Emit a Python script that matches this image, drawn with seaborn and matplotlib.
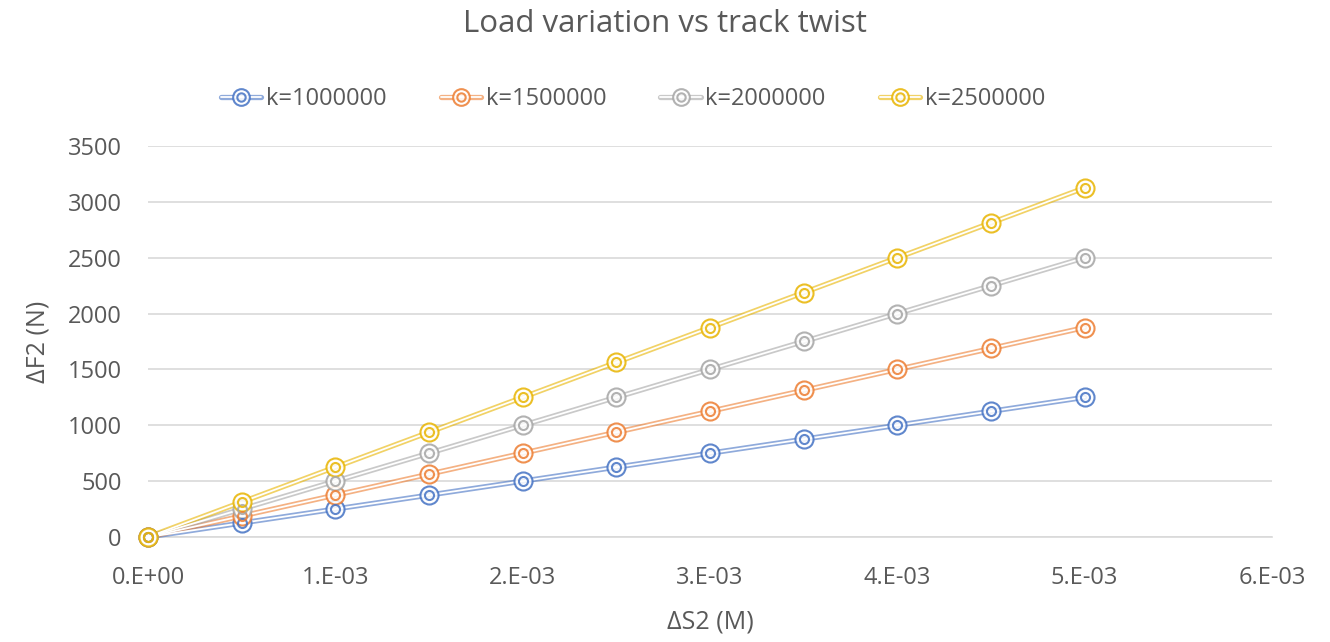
import matplotlib
matplotlib.use("Agg")
import matplotlib.pyplot as plt
import seaborn as sns
import pandas as pd
from matplotlib.lines import Line2D
from matplotlib.legend_handler import HandlerTuple

# ---- data ----
ds2 = [0.0, 0.0005, 0.001, 0.0015, 0.002, 0.0025, 0.003, 0.0035, 0.004, 0.0045, 0.005]
series_names = ["k=1000000", "k=1500000", "k=2000000", "k=2500000"]
f_k1 = [0, 125, 250, 375, 500, 625, 750, 875, 1000, 1125, 1250]
f_k2 = [0, 187.5, 375, 562.5, 750, 937.5, 1125, 1312.5, 1500, 1687.5, 1875]
f_k3 = [0, 250, 500, 750, 1000, 1250, 1500, 1750, 2000, 2250, 2500]
f_k4 = [0, 312.5, 625, 937.5, 1250, 1562.5, 1875, 2187.5, 2500, 2812.5, 3125]
xtick_vals = [0, 0.001, 0.002, 0.003, 0.004, 0.005, 0.006]
xtick_labels = ["0.E+00", "1.E-03", "2.E-03", "3.E-03", "4.E-03", "5.E-03", "6.E-03"]
ytick_vals = [0, 500, 1000, 1500, 2000, 2500, 3000, 3500]

colors = ["#4472C4", "#ED7D31", "#A5A5A5", "#E8B400"]
text_color = "#595959"

rows = []
for name, vals in zip(series_names, [f_k1, f_k2, f_k3, f_k4]):
    for x, y in zip(ds2, vals):
        rows.append({"ΔS2": x, "ΔF2": y, "series": name})
df = pd.DataFrame(rows)

sns.set_theme(style="white")
plt.rcParams["font.family"] = ["Open Sans", "DejaVu Sans"]

fig = plt.figure(figsize=(13.3, 6.42), dpi=100)
ax = fig.add_axes([0.1113, 0.1636, 0.8451, 0.609])

# outer (coloured) part of the double line
sns.lineplot(data=df, x="ΔS2", y="ΔF2", hue="series", palette=colors,
             linewidth=3.8, alpha=0.6, legend=False, ax=ax, sort=False, zorder=3)
# inner white gap to obtain the compound (double) line look
for name in series_names:
    sub = df[df["series"] == name]
    ax.plot(sub["ΔS2"], sub["ΔF2"], color="white", linewidth=1.3, zorder=4)
# markers: outer ring + inner ring
for name, c in zip(series_names, colors):
    sub = df[df["series"] == name]
    ax.plot(sub["ΔS2"], sub["ΔF2"], linestyle="none", marker="o", markersize=13,
            mfc="white", mec=c, mew=1.5, alpha=0.85, zorder=5)
    ax.plot(sub["ΔS2"], sub["ΔF2"], linestyle="none", marker="o", markersize=6.5,
            mfc="none", mec=c, mew=1.5, alpha=0.85, zorder=6)

ax.set_xlim(0, 0.006)
ax.set_ylim(0, 3500)
ax.set_xticks(xtick_vals)
ax.set_xticklabels(xtick_labels)
ax.set_yticks(ytick_vals)
ax.grid(axis="y", color="#D9D9D9", linewidth=1.2)
ax.grid(axis="x", visible=False)
for s in ["left", "right", "top"]:
    ax.spines[s].set_visible(False)
ax.spines["bottom"].set_color("#D9D9D9")
ax.spines["bottom"].set_linewidth(1.2)
ax.tick_params(axis="y", length=0, labelsize=17, labelcolor=text_color, pad=19)
ax.tick_params(axis="x", length=0, labelsize=17, labelcolor=text_color, pad=21)
for ln in ax.lines:
    ln.set_clip_on(False)

ax.set_xlabel("ΔS2 (M)", fontsize=18, color=text_color, labelpad=14)
ax.set_ylabel("ΔF2 (N)", fontsize=18, color=text_color, labelpad=12)
fig.text(0.5, 0.963, "Load variation vs track twist", ha="center", va="center",
         fontsize=22.5, color=text_color)

handles = []
for c in colors:
    outer = Line2D([], [], color=c, linewidth=3.8, alpha=0.6)
    inner = Line2D([], [], color="white", linewidth=1.3)
    m1 = Line2D([], [], linestyle="none", marker="o", markersize=12, mfc="white", mec=c, mew=1.5, alpha=0.85)
    m2 = Line2D([], [], linestyle="none", marker="o", markersize=6, mfc="none", mec=c, mew=1.5, alpha=0.85)
    handles.append((outer, inner, m1, m2))
leg = fig.legend(handles, series_names, loc="center", bbox_to_anchor=(0.476, 0.846), ncol=4,
                 frameon=False, fontsize=17, handlelength=1.7, handletextpad=0.2,
                 columnspacing=2.3, handler_map={tuple: HandlerTuple(ndivide=1)})
for t in leg.get_texts():
    t.set_color(text_color)

fig.savefig("out.png", dpi=100, facecolor="white")
